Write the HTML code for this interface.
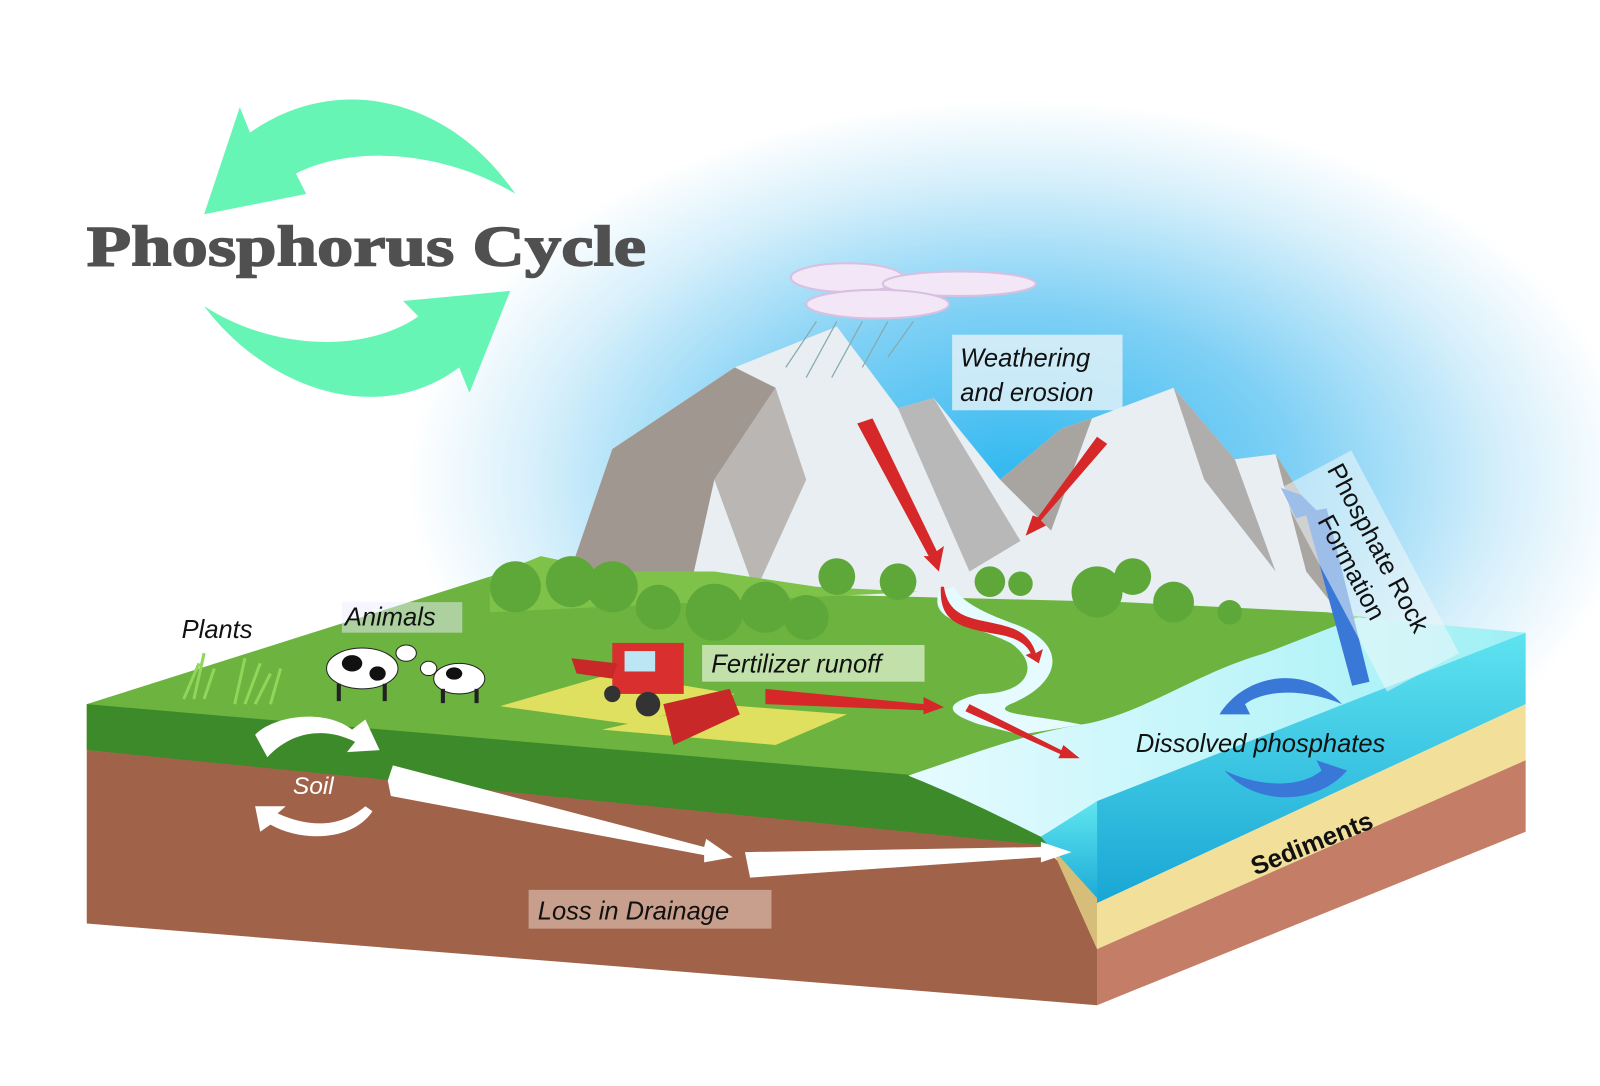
<!DOCTYPE html>
<html><head><meta charset="utf-8"><style>
html,body{margin:0;padding:0;background:#fff;}
svg{display:block;}
</style></head><body>
<svg width="1600" height="1086" viewBox="0 0 1600 1086" xmlns="http://www.w3.org/2000/svg" font-family="Liberation Sans, sans-serif">
<defs>
<radialGradient id="sky" cx="1000" cy="470" r="600" gradientUnits="userSpaceOnUse" gradientTransform="translate(1000 470) scale(1 0.62) translate(-1000 -470)">
<stop offset="0" stop-color="#2fb8f0"/><stop offset="0.45" stop-color="#7fd0f5"/><stop offset="0.8" stop-color="#d8f0fb"/><stop offset="1" stop-color="#ffffff"/>
</radialGradient>
<linearGradient id="water" x1="0" y1="0" x2="1" y2="0"><stop offset="0" stop-color="#e6fbff"/><stop offset="1" stop-color="#9ff0f5"/></linearGradient>
<linearGradient id="wfront" x1="0" y1="0" x2="0" y2="1"><stop offset="0" stop-color="#5fe6ef"/><stop offset="1" stop-color="#1aa9d6"/></linearGradient>
<linearGradient id="wside" x1="0" y1="0" x2="0" y2="1"><stop offset="0" stop-color="#5ee3f0"/><stop offset="1" stop-color="#18a6d4"/></linearGradient>
</defs>
<rect width="1600" height="1086" fill="#fff"/>
<g transform="scale(1.0205)">
<ellipse cx="1000" cy="470" rx="600" ry="372" fill="url(#sky)"/>
<path d="M200 210 L235 105 L245 130 C330 70 440 95 505 190 C440 150 350 140 290 170 L300 190 Z" fill="#66f5b5"/>
<path d="M500 285 L460 385 L450 360 C370 420 260 380 200 300 C270 345 360 345 410 310 L395 295 Z" fill="#66f5b5"/>
<text x="85" y="260" style="font-family:'Liberation Serif',serif;font-weight:bold" font-size="56" fill="#505050" stroke="#505050" stroke-width="1.5" textLength="548" lengthAdjust="spacingAndGlyphs">Phosphorus Cycle</text>
<path d="M545 600 L600 440 L720 360 L820 320 L880 400 L915 390 L980 470 L1040 420 L1070 410 L1150 380 L1210 450 L1250 445 L1310 540 L1320 610 Z" fill="#e8eef2"/>
<path d="M545 600 L600 440 L720 360 L760 380 L700 470 L680 560 Z" fill="#a09890"/>
<path d="M700 470 L760 380 L790 470 L740 580 Z" fill="#b9b6b3"/>
<path d="M880 400 L915 390 L1000 530 L950 560 Z" fill="#b8b8b8"/>
<path d="M980 470 L1040 420 L1070 410 L1030 520 Z" fill="#a8a4a0"/>
<path d="M1150 380 L1210 450 L1250 560 L1180 470 Z" fill="#b0aeac"/>
<path d="M1250 445 L1310 540 L1320 610 L1280 560 Z" fill="#a9a5a0"/>
<g fill="#f3e6f7" stroke="#d8c0e0" stroke-width="2">
<ellipse cx="830" cy="272" rx="55" ry="14"/><ellipse cx="940" cy="278" rx="75" ry="12"/><ellipse cx="860" cy="298" rx="70" ry="14"/>
</g>
<g stroke="#8aa" stroke-width="1.2">
<line x1="800" y1="315" x2="770" y2="360"/><line x1="820" y1="315" x2="790" y2="370"/><line x1="845" y1="315" x2="815" y2="370"/><line x1="870" y1="315" x2="845" y2="360"/><line x1="895" y1="315" x2="870" y2="350"/>
</g>
<path d="M85 690 L480 565 L600 570 L700 580 L900 585 L1100 590 L1300 600 L1340 605 L1240 640 L1150 680 L1100 720 L980 740 L900 760 L1000 830 L85 735 Z" fill="#6cb33f"/>
<path d="M480 565 L530 545 L600 560 L700 560 L800 575 L900 580 L480 600 Z" fill="#7fc24a"/>
<path d="M85 690 L85 735 L1000 830 L1040 832 L1010 800 L960 770 L900 760 Z" fill="#3d8a2a"/>
<path d="M85 735 L1020 828 L1075 880 L1075 985 L85 905 Z" fill="#a0634a"/>
<path d="M890 760 C950 740 1000 720 1060 710 C1120 700 1170 660 1240 640 L1330 605 L1495 620 L1075 785 L1020 820 C980 800 940 780 890 760 Z" fill="url(#water)"/>
<path d="M920 580 C910 610 950 610 990 630 C1020 650 1010 680 960 680 C920 690 930 700 960 710 L1000 720 L1060 710 C1010 700 970 700 990 690 C1040 670 1050 630 990 610 C950 595 940 585 935 575 Z" fill="#e6fbff"/>
<path d="M1020 820 L1075 785 L1075 885 Z" fill="url(#wfront)"/>
<path d="M1030 830 L1075 880 L1075 930 Z" fill="#d6be7a"/>
<path d="M1075 785 L1495 620 L1495 690 L1075 885 Z" fill="url(#wside)"/>
<path d="M1075 885 L1495 690 L1495 745 L1075 930 Z" fill="#f1df9a"/>
<path d="M1075 930 L1495 745 L1495 815 L1075 985 Z" fill="#c47d66"/>
<g fill="#5ea83a">
<circle cx="505" cy="575" r="25"/><circle cx="560" cy="570" r="25"/><circle cx="600" cy="575" r="25"/><circle cx="645" cy="595" r="22"/><circle cx="700" cy="600" r="28"/><circle cx="750" cy="595" r="25"/><circle cx="790" cy="605" r="22"/><circle cx="820" cy="565" r="18"/><circle cx="880" cy="570" r="18"/><circle cx="970" cy="570" r="15"/><circle cx="1000" cy="572" r="12"/><circle cx="1075" cy="580" r="25"/><circle cx="1110" cy="565" r="18"/><circle cx="1150" cy="590" r="20"/><circle cx="1205" cy="600" r="12"/>
</g>
<path d="M490 692 L600 660 L720 680 L620 710 Z" fill="#e0e060"/>
<path d="M590 715 L700 690 L830 700 L760 730 Z" fill="#e0e060"/>
<g>
<rect x="600" y="630" width="70" height="50" fill="#d92f2f"/><rect x="612" y="638" width="30" height="20" fill="#bde6f5"/>
<path d="M650 690 L715 675 L725 700 L660 730 Z" fill="#c82828"/>
<circle cx="635" cy="690" r="12" fill="#333"/><circle cx="600" cy="680" r="8" fill="#333"/>
<path d="M560 645 L605 650 L600 665 L565 660 Z" fill="#c82828"/>
</g>
<g><ellipse cx="355" cy="655" rx="35" ry="20" fill="#fff" stroke="#222"/><ellipse cx="345" cy="650" rx="10" ry="8" fill="#111"/><ellipse cx="370" cy="660" rx="8" ry="7" fill="#111"/><ellipse cx="398" cy="640" rx="10" ry="8" fill="#fff" stroke="#222"/>
<rect x="330" y="670" width="4" height="17" fill="#222"/><rect x="375" y="670" width="4" height="17" fill="#222"/></g>
<g><ellipse cx="450" cy="665" rx="25" ry="15" fill="#fff" stroke="#222"/><ellipse cx="445" cy="660" rx="8" ry="6" fill="#111"/><ellipse cx="420" cy="655" rx="8" ry="7" fill="#fff" stroke="#222"/>
<rect x="432" y="675" width="4" height="14" fill="#222"/><rect x="465" y="675" width="4" height="14" fill="#222"/></g>
<g stroke="#8fd65a" stroke-width="3" fill="none">
<path d="M180 685 L195 650 M190 685 L200 640 M200 685 L210 655 M230 690 L240 645 M240 690 L255 650 M250 690 L265 660 M265 690 L275 655"/>
</g>
<g fill="#d62828">
<path d="M840 415 L855 410 L918 540 L925 535 L920 560 L905 545 L910 545 Z"/>
<path d="M1075 428 L1085 435 L1020 510 L1025 515 L1005 525 L1012 505 L1017 507 Z"/>
<path d="M925 575 C930 610 960 605 990 615 C1005 620 1012 630 1015 640 L1022 636 L1018 650 L1005 642 L1010 640 C1005 630 995 625 980 622 C940 615 920 610 922 575 Z"/>
<path d="M750 675 L905 690 L905 683 L925 693 L905 700 L905 696 L750 690 Z"/>
<path d="M950 690 L1040 735 L1042 730 L1058 743 L1037 743 L1039 739 L946 697 Z"/>
</g>
<g fill="#3a78d8">
<path d="M1325 672 L1280 505 L1270 508 L1255 478 L1275 485 L1290 500 L1300 498 L1342 668 Z"/>
<path d="M1195 700 C1220 660 1280 650 1315 690 C1280 675 1240 675 1220 690 L1225 700 Z"/>
<path d="M1320 755 C1290 790 1230 790 1200 755 C1235 772 1275 772 1295 755 L1290 745 Z"/>
</g>
<g fill="#fff">
<path d="M380 765 L385 750 L690 830 L692 822 L718 840 L690 845 L690 838 L383 780 Z"/>
<path d="M730 835 L1020 830 L1020 825 L1050 835 L1020 845 L1020 840 L735 860 Z"/>
<path d="M250 720 C270 700 320 695 345 715 L358 705 L372 735 L340 737 L348 727 C325 715 290 712 262 742 Z"/>
<path d="M365 795 C345 825 295 825 265 808 L255 815 L250 790 L280 790 L272 797 C305 812 335 810 358 790 Z"/>
</g>
<rect x="933" y="328" width="167" height="74" fill="#e6f3f8" opacity="0.8"/>
<text x="941" y="359" font-style="italic" font-size="25" fill="#111">Weathering</text>
<text x="941" y="393" font-style="italic" font-size="25" fill="#111">and erosion</text>
<rect x="688" y="632" width="218" height="36" fill="#e6f3d8" opacity="0.7"/>
<text x="697" y="659" font-style="italic" font-size="25" fill="#111">Fertilizer runoff</text>
<text x="178" y="625" font-style="italic" font-size="25" fill="#111">Plants</text>
<rect x="335" y="590" width="118" height="30" fill="#eef" opacity="0.5"/>
<text x="338" y="613" font-style="italic" font-size="25" fill="#111">Animals</text>
<text x="287" y="778" font-style="italic" font-size="24" fill="#fff">Soil</text>
<rect x="518" y="872" width="238" height="38" fill="#d8b8a8" opacity="0.7"/>
<text x="527" y="901" font-style="italic" font-size="25" fill="#111">Loss in Drainage</text>
<text x="1113" y="737" font-style="italic" font-size="25" fill="#111">Dissolved phosphates</text>
<g transform="translate(1300 460) rotate(62)">
<rect x="-5" y="-30" width="225" height="80" fill="#f0f8fa" opacity="0.55"/>
<text x="0" y="0" font-size="25" fill="#111">Phosphate Rock</text>
<text x="40" y="32" font-size="25" fill="#111">Formation</text>
</g>
<text x="1230" y="858" font-weight="bold" font-size="25" fill="#111" transform="rotate(-22 1230 858)">Sediments</text>
</g>
</svg>
</body></html>
